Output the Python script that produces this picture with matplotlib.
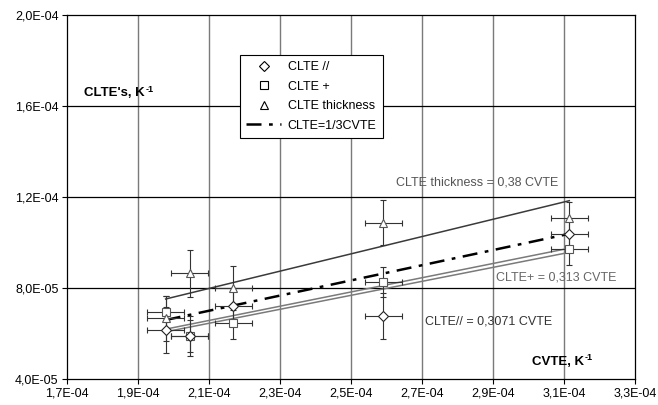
import matplotlib
matplotlib.use("Agg")
import matplotlib.pyplot as plt
from matplotlib.lines import Line2D
from matplotlib.ticker import FuncFormatter, FixedLocator

plt.rcParams["font.family"] = ["Liberation Sans", "DejaVu Sans"]

# ── data ──
cvte = [1.978e-4, 2.046e-4, 2.168e-4, 2.591e-4, 3.115e-4]
cvte_err = [5.2e-6, 5.2e-6, 5.2e-6, 5.2e-6, 5.2e-6]

clte_par = [6.15e-5, 5.90e-5, 7.21e-5, 6.77e-5, 1.037e-4]
clte_par_err = [1.0e-5, 8.9e-6, 7.0e-6, 1.0e-5, 7.0e-6]
clte_perp = [6.96e-5, 5.90e-5, 6.45e-5, 8.28e-5, 9.70e-5]
clte_perp_err = [7.0e-6, 7.0e-6, 7.0e-6, 6.6e-6, 7.0e-6]
clte_thk = [6.67e-5, 8.65e-5, 8.00e-5, 1.087e-4, 1.106e-4]
clte_thk_err = [1.0e-5, 1.03e-5, 9.8e-6, 1.0e-5, 7.0e-6]

fit_x = [1.978e-4, 3.115e-4]
slope_thk = 0.38
slope_perp = 0.313
slope_par = 0.3071
slope_third = 1 / 3

x_ticks = [1.7e-4, 1.9e-4, 2.1e-4, 2.3e-4, 2.5e-4, 2.7e-4, 2.9e-4, 3.1e-4, 3.3e-4]
y_ticks = [4.0e-5, 8.0e-5, 1.2e-4, 1.6e-4, 2.0e-4]

fig = plt.figure(figsize=(6.58, 4.05), dpi=100, facecolor="white")
ax = fig.add_axes([0.1018, 0.0642, 0.8632, 0.8988])

ax.set_xlim(x_ticks[0], x_ticks[-1])
ax.set_ylim(y_ticks[0], y_ticks[-1])
ax.xaxis.set_major_locator(FixedLocator(x_ticks))
ax.yaxis.set_major_locator(FixedLocator(y_ticks))
fmt = FuncFormatter(lambda v, p: f"{v:.1E}".replace(".", ","))
ax.xaxis.set_major_formatter(fmt)
ax.yaxis.set_major_formatter(fmt)
ax.tick_params(labelsize=9, length=3.5, width=0.8, color="black", pad=2.5)

for v in x_ticks[1:-1]:
    ax.axvline(v, color="#7a7a7a", lw=1.0, zorder=0)
for v in y_ticks[1:-1]:
    ax.axhline(v, color="black", lw=0.9, zorder=0)
for s in ax.spines.values():
    s.set_linewidth(0.9)

# fit lines
ax.plot(fit_x, [slope_thk * x for x in fit_x], color="#3a3a3a", lw=1.1, zorder=2)
ax.plot(fit_x, [slope_perp * x for x in fit_x], color="#7a7a7a", lw=1.1, zorder=2)
ax.plot(fit_x, [slope_par * x for x in fit_x], color="#7a7a7a", lw=1.1, zorder=2)
ax.plot(fit_x, [slope_third * x for x in fit_x], color="black", lw=1.8,
        dashes=(6, 3, 1.5, 3), zorder=2)

ekw = dict(ecolor="#333333", elinewidth=0.8, capsize=2, capthick=0.8,
           linestyle="none", mfc="white", ms=5.5, mew=0.8, zorder=3)
ax.errorbar(cvte, clte_perp, xerr=cvte_err, yerr=clte_perp_err, marker="s",
            mec="#555555", **ekw)
ax.errorbar(cvte, clte_thk, xerr=cvte_err, yerr=clte_thk_err, marker="^",
            mec="#555555", **ekw)
ax.errorbar(cvte, clte_par, xerr=cvte_err, yerr=clte_par_err, marker="D",
            mec="#222222", **dict(ekw, ms=5))

# annotations
ax.text(2.627e-4, 1.262e-4, "CLTE thickness = 0,38 CVTE", fontsize=9,
        color="#555555", ha="left", va="center")
ax.text(2.908e-4, 8.44e-5, "CLTE+ = 0,313 CVTE", fontsize=9,
        color="#666666", ha="left", va="center")
ax.text(2.708e-4, 6.51e-5, "CLTE// = 0,3071 CVTE", fontsize=9,
        color="#333333", ha="left", va="center")


def axis_title(x, y, main):
    t = ax.text(x, y, main, fontsize=9.5, fontweight="bold", ha="left", va="center")
    fig.canvas.draw()
    bb = t.get_window_extent()
    ax.annotate("-1", xy=(bb.x1, bb.y1), xycoords="figure pixels",
                xytext=(0.4, 1.8), textcoords="offset points",
                fontsize=6.5, fontweight="bold", ha="left", va="top")


axis_title(1.748e-4, 1.657e-4, "CLTE's, K")
axis_title(3.01e-4, 4.75e-5, "CVTE, K")

handles = [
    Line2D([], [], marker="D", ls="none", mfc="white", mec="black", ms=5, mew=0.8),
    Line2D([], [], marker="s", ls="none", mfc="white", mec="black", ms=5.5, mew=0.8),
    Line2D([], [], marker="^", ls="none", mfc="white", mec="black", ms=5.5, mew=0.8),
    Line2D([], [], color="black", lw=1.8, dashes=(6, 3, 1.5, 3)),
]
labels = ["CLTE //", "CLTE +", "CLTE thickness", "CLTE=1/3CVTE"]
leg = fig.legend(handles, labels, loc="upper left",
                 bbox_to_anchor=(0.365, 0.864), borderaxespad=0,
                 fontsize=9, frameon=True,
                 fancybox=False, edgecolor="black", framealpha=1,
                 handlelength=2.8, borderpad=0.5, labelspacing=0.6,
                 handletextpad=0.5)
leg.get_frame().set_linewidth(0.8)

fig.savefig("out.png", dpi=100, facecolor="white")
